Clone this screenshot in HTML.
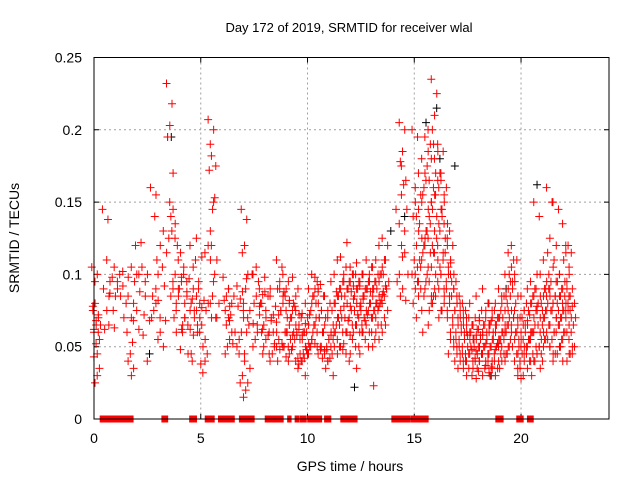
<!DOCTYPE html>
<html><head><meta charset="utf-8"><style>
body{margin:0;background:#fff;}
svg{display:block;font-family:"Liberation Sans",sans-serif;}
</style></head><body>
<svg id="chart" width="640" height="480">
<rect width="640" height="480" fill="#fff"/>
<text x="349" y="32" font-size="13" text-anchor="middle">Day 172 of 2019, SRMTID for receiver wlal</text>
<text x="350" y="471" font-size="14" text-anchor="middle">GPS time / hours</text>
<text x="19" y="238" font-size="14" text-anchor="middle" transform="rotate(-90 19 238)">SRMTID / TECUs</text>
<g id="grid"></g>
<g id="axes"></g>
<g id="black"></g>
<g id="red"></g>
<rect x="94" y="57.5" width="515" height="361.5" fill="none" stroke="#000" stroke-width="1"/>
</svg>
<script>
const xTicks=[0,5,10,15,20];
const yTicks=[0,0.05,0.1,0.15,0.2,0.25];
const yTickLabels=["0","0.05","0.1","0.15","0.2","0.25"];
const redGroups=[
[0.05,[.105,.1,.08,.075,.07,.065,.06]],[0.1,[.078,.072,.068,.062,.055,.045]],[0.15,[.043,.035,.03,.025]],[0.2,[.095,.065,.06,.052]],
[0.55,[.145,.138]],[0.6,[.09,.085,.075,.062]],[0.75,[.11,.098,.095]],[0.85,[.065,.063]],[0.9,[.087,.085,.075]],[1.1,[.105,.1,.09]],[1.25,[.095,.092]],[1.4,[.085,.08,.07]],[1.5,[.102,.098]],[1.7,[.06,.053,.045,.04,.035,.03]],[1.75,[.085,.08,.07]],[1.9,[.105,.1,.095]],[2.0,[.068,.062,.075]],[2.1,[.12,.122,.1]],[2.3,[.088,.085,.058]],[2.4,[.105,.1,.095]],[2.5,[.072,.068]],[2.65,[.04]],[2.8,[.16,.155,.075,.07]],[2.9,[.085,.082,.08]],[3.0,[.14,.12,.1,.09]],[3.1,[.11,.105,.06,.055]],[3.25,[.07,.068,.05]],[3.4,[.13,.125,.115,.092]],[3.55,[.232,.218,.203,.195,.17]],[3.6,[.195,.145,.14]],[3.7,[.15,.135,.09,.085,.06]],[3.8,[.13,.12,.1,.095,.085,.08,.07]],[3.95,[.125,.115,.09,.075,.062]],[4.1,[.11,.105,.098,.09,.07,.065,.048]],[4.25,[.095,.085,.08,.06,.045]],[4.35,[.1,.097,.088,.07,.062]],[4.5,[.095,.083,.075,.065,.058,.045]],[4.65,[.12,.11,.09,.08,.075,.07,.04]],[4.8,[.105,.095,.085,.075,.07,.06]],[4.95,[.125,.112,.08,.065,.05,.038]],[5.05,[.09,.082,.077,.06,.055]],[5.2,[.065,.045,.04,.032]],[5.35,[.115,.11,.08,.075,.07]],[5.5,[.207,.2,.182,.172,.153,.145,.13,.12]],[5.6,[.19,.175,.15,.12,.11,.1,.085,.08,.07]],[5.75,[.095,.08,.07]],[6.2,[.098,.09,.085,.082,.078]],[6.3,[.075,.072,.07,.065,.06,.055,.05,.045]],[6.45,[.09,.085,.08,.068,.06,.052]],[6.85,[.092,.088,.083,.078,.07,.06,.055,.05]],[6.95,[.045,.04,.03,.025,.02,.015]],[7.05,[.145,.138,.12,.115,.1,.09,.08]],[7.15,[.075,.065,.06,.045,.035,.025]],[7.3,[.097,.1,.075,.07,.066]],[7.6,[.1,.095,.085,.08,.072,.06,.055,.05]],[7.75,[.105,.08,.078,.065,.045]],[7.9,[.09,.088,.086,.08,.07,.065,.06]],[8.05,[.062,.058,.055,.05,.045]],[8.15,[.098,.09,.085,.075,.07,.06]],[8.4,[.085,.078,.072,.068,.06,.052,.045,.04]],[8.55,[.06,.055,.05,.05,.048,.04]],[8.7,[.11,.105,.095,.09,.085,.075,.072,.067,.052]],[8.85,[.09,.085,.08,.075,.06,.05]],[9.0,[.1,.095,.09,.088,.082,.07,.06,.05,.04]],[9.15,[.075,.07,.065,.06,.058,.055,.05,.043]],[9.3,[.08,.078,.075,.07,.065,.06,.048,.045]],[9.45,[.098,.09,.085,.08,.072,.06,.055,.05,.035]],[9.6,[.075,.07,.065,.058,.055,.045,.042,.04]],[9.75,[.062,.06,.058,.055,.05,.045,.04,.038]],[9.9,[.073,.07,.066,.06,.052,.048,.042,.04]],[10.05,[.08,.075,.065,.06,.055,.05,.045,.03]],[10.2,[.09,.085,.08,.072,.065,.06,.05,.045]],[10.35,[.1,.095,.09,.085,.08,.07,.065,.055,.05]],[10.5,[.098,.093,.088,.08,.075,.07,.06,.052,.048]],[10.65,[.09,.085,.075,.07,.065,.06,.05,.045]],[10.8,[.05,.048,.045,.042,.04,.035,.06]],[10.95,[.085,.08,.075,.07,.06,.055,.05,.047]],[11.1,[.07,.065,.058,.055,.05,.045,.042,.04,.03]],[11.25,[.095,.088,.08,.075,.07,.06,.055,.05]],[11.4,[.1,.09,.085,.08,.075,.07,.065,.06,.05,.045]],[11.55,[.11,.095,.09,.085,.078,.07,.065,.055,.048]],[11.7,[.112,.105,.095,.085,.08,.07,.06,.05,.045]],[11.85,[.1,.095,.09,.085,.078,.068,.06,.052,.04]],[12.0,[.122,.1,.095,.09,.083,.075,.07,.06,.055,.045]],[12.15,[.105,.1,.092,.088,.08,.075,.065,.058,.05]],[12.3,[.1,.095,.09,.085,.078,.072,.065,.06,.05,.035]],[12.45,[.108,.1,.095,.09,.083,.075,.07,.065,.06,.045]],[12.6,[.092,.09,.085,.08,.075,.07,.065,.06,.055]],[12.75,[.1,.095,.09,.085,.08,.072,.068,.06,.05]],[12.9,[.11,.105,.095,.09,.085,.08,.075,.065,.06]],[13.05,[.1,.095,.09,.088,.08,.075,.07,.06,.055,.05]],[13.2,[.105,.1,.095,.09,.085,.08,.075,.07,.065,.06,.023]],[13.35,[.11,.1,.095,.09,.086,.08,.075,.07,.065,.055]],[13.5,[.12,.11,.105,.1,.092,.088,.082,.078,.07,.06]],[13.65,[.125,.12,.11,.1,.095,.09,.085,.08,.075,.065]],[14.3,[.145,.12,.1,.095,.09,.085]],[14.45,[.205,.2,.185,.178,.165,.162,.155,.135,.115]],[14.55,[.175,.145,.13,.112,.1,.082]],[15.05,[.2,.195,.15,.14,.13,.12,.11,.1,.095,.09,.08]],[15.2,[.16,.155,.145,.14,.125,.11,.105,.1,.09,.085,.07]],[15.35,[.17,.16,.15,.135,.125,.115,.105,.095,.085,.075]],[15.5,[.18,.175,.17,.155,.145,.13,.12,.11,.1,.09,.06,.065]],[15.65,[.195,.19,.185,.165,.15,.14,.13,.12,.115,.105,.095,.085,.075]],[15.8,[.2,.19,.18,.165,.155,.145,.135,.125,.115,.105,.095,.09,.08]],[15.95,[.235,.225,.21,.2,.185,.17,.16,.15,.14,.13,.12,.11,.1,.085,.08]],[16.1,[.18,.17,.165,.155,.145,.135,.125,.115,.105,.095,.085,.075,.07]],[16.25,[.19,.185,.165,.16,.15,.14,.13,.12,.115,.1,.09,.085]],[16.4,[.17,.16,.155,.145,.135,.125,.11,.1,.09,.08,.075]],[16.55,[.135,.13,.12,.115,.108,.1,.095,.09,.08,.07]],[16.7,[.125,.12,.11,.105,.1,.095,.085,.075,.065,.055,.045]],[16.85,[.1,.095,.09,.085,.08,.075,.07,.06,.055,.05]],[17.0,[.09,.085,.08,.075,.07,.065,.06,.055,.05,.045,.04]],[17.15,[.085,.08,.075,.07,.065,.06,.055,.05,.045,.04,.035]],[17.3,[.08,.075,.07,.065,.06,.055,.05,.045,.04,.035]],[17.45,[.075,.07,.065,.06,.055,.05,.045,.04,.035,.03]],[17.6,[.07,.065,.06,.058,.055,.05,.045,.04,.03]],[17.75,[.08,.07,.065,.06,.055,.05,.048,.045,.04,.035]],[17.9,[.065,.062,.058,.055,.05,.045,.042,.04,.033,.028]],[18.05,[.085,.075,.07,.062,.058,.055,.05,.047,.045,.04,.035]],[18.2,[.068,.065,.06,.058,.052,.05,.045,.04,.035,.03]],[18.35,[.09,.08,.075,.065,.06,.055,.05,.045,.04,.037]],[18.5,[.07,.068,.065,.06,.055,.05,.045,.04,.036,.032]],[18.65,[.08,.075,.07,.065,.06,.055,.05,.045,.04,.035,.03]],[18.8,[.075,.07,.065,.06,.055,.05,.045,.04,.035,.03]],[18.95,[.08,.075,.07,.065,.06,.055,.052,.048,.045,.04]],[19.1,[.09,.085,.08,.07,.065,.06,.055,.05,.045,.04,.035]],[19.25,[.085,.08,.075,.07,.065,.06,.055,.05,.045,.04]],[19.4,[.1,.095,.09,.085,.075,.07,.065,.06,.055,.05,.045]],[19.55,[.115,.11,.105,.1,.095,.09,.085,.075,.07,.06,.05]],[19.7,[.12,.11,.1,.095,.085,.08,.07,.065,.06,.055,.05,.045]],[19.85,[.075,.07,.065,.06,.055,.05,.045,.04,.035,.03]],[20.0,[.07,.065,.06,.055,.05,.045,.04,.035,.03,.028]],[20.15,[.085,.08,.075,.07,.065,.06,.055,.05,.045,.04]],[20.3,[.075,.072,.068,.065,.06,.055,.05,.045,.04,.035]],[20.45,[.09,.085,.08,.075,.07,.06,.055,.05,.045,.04]],[20.6,[.095,.09,.085,.08,.075,.065,.06,.055,.05,.04,.03]],[20.75,[.15,.14,.1,.09,.085,.08,.075,.06,.05,.045,.04]],[20.9,[.078,.075,.07,.065,.06,.055,.05,.045,.04,.035]],[21.05,[.1,.09,.085,.08,.075,.07,.065,.06,.055,.05,.045]],[21.2,[.11,.1,.095,.09,.085,.08,.075,.07,.065,.06,.055,.05]],[21.35,[.16,.15,.125,.115,.105,.095,.09,.085,.075,.065,.055,.045]],[21.5,[.09,.085,.08,.075,.07,.06,.055,.05,.045,.04]],[21.65,[.15,.145,.12,.11,.1,.095,.085,.08,.075,.07,.06,.05]],[21.8,[.095,.09,.085,.08,.075,.07,.065,.06,.055,.05,.045,.04]],[21.95,[.1,.095,.09,.085,.08,.075,.07,.065,.06,.055,.05]],[22.1,[.135,.12,.115,.11,.1,.09,.085,.08,.075,.07,.06,.045,.04]],[22.25,[.12,.115,.105,.095,.09,.085,.08,.075,.07,.065,.06,.05,.045]],[22.4,[.085,.08,.078,.075,.07,.065,.06,.055,.05,.045]]
];
const blackTimes=[3.62,15.55,16.05,16.2,20.75,18.6,13.9,14.55,16.9,19.3,12.2,2.6];
const blackValues=[.195,.205,.215,.18,.162,.03,.13,.14,.175,.09,.022,.045];
const zeroRanges=[[0.36,0.78],[0.83,1.14],[1.26,1.76],[3.25,3.27],[3.36,3.38],[4.55,4.73],[5.28,5.56],[5.9,6.5],[6.88,7.43],[8.09,8.79],[9.14,9.16],[9.49,9.51],[9.71,9.87],[10.08,10.24],[10.38,10.59],[10.87,11.02],[11.63,11.65],[11.7,11.77],[11.8,11.82],[11.88,11.9],[11.96,12.07],[12.1,12.25],[14.02,14.72],[14.91,15.58],[18.89,19.09],[19.87,20.03],[20.37,20.5]];
const X0=94,X1=609,Y0=419,Y1=57.5,XMAX=24.12,YMAX=0.25;
const xs=t=>X0+(X1-X0)*t/XMAX;
const ys=v=>Y0-(Y0-Y1)*v/YMAX;
const NS="http://www.w3.org/2000/svg";
function mk(tag,attrs,parent){const e=document.createElementNS(NS,tag);for(const k in attrs)e.setAttribute(k,attrs[k]);parent.appendChild(e);return e;}
const grid=document.getElementById('grid'),axes=document.getElementById('axes');
xTicks.forEach((t,i)=>{
  const x=xs(t);
  if(t>0){const g=mk('line',{x1:x,x2:x,y1:Y1,y2:Y0,stroke:'#a0a0a0','stroke-dasharray':'2,3'},grid);
  
  }
  const tk=mk('path',{d:`M${x},${Y0}v-5M${x},${Y1}v5`,stroke:'#000'},axes);
  
  
  const lb=mk('text',{x:x,y:443,'font-size':14,'text-anchor':'middle'},axes);lb.textContent=String(t);
  
  
});
yTicks.forEach((v,i)=>{
  const y=ys(v);
  if(v>0&&v<YMAX){const g=mk('line',{x1:X0,x2:X1,y1:y,y2:y,stroke:'#a0a0a0','stroke-dasharray':'2,3'},grid);
  
  }
  const tk=mk('path',{d:`M${X0},${y}h5M${X1},${y}h-5`,stroke:'#000'},axes);
  
  
  const lb=mk('text',{x:82,y:y+5,'font-size':14,'text-anchor':'end'},axes);lb.textContent=yTickLabels[i];
  
  
});
function plus(x,y,col,parent){
  const p=mk('path',{d:`M${x-4},${y}h8M${x},${y-4}v8`,stroke:col,'stroke-width':1},parent);
  
  
}
const blk=document.getElementById('black'),red=document.getElementById('red');
blackTimes.forEach((t,i)=>plus(xs(t),ys(blackValues[i]),'#000',blk));
redGroups.forEach(([t,vals])=>{
  vals.forEach((v,j)=>{const off=((j*5)%7-3)*1.1;plus(xs(t)+off,ys(v),'#ff0000',red);});
});
zeroRanges.forEach(([a,b])=>{
  const r=mk('rect',{x:xs(a)-2,y:Y0-3.5,width:Math.max(2,xs(b)-xs(a)+4),height:7,fill:'#ff0000'},red);
  
  
});
</script>
</body></html>
